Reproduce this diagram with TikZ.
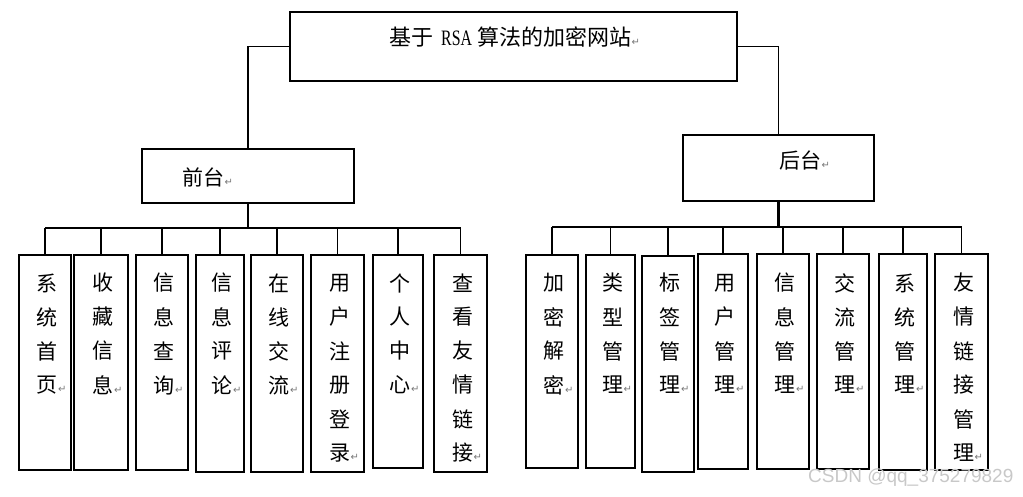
\documentclass[tikz,border=0pt]{standalone}
\usepackage{fontspec}
\usepackage{graphicx}
\setmainfont{Noto Sans CJK SC}
\newfontfamily\cjk{Noto Sans CJK SC}
\newfontfamily\latserif{Liberation Serif}
\newfontfamily\dejavu{DejaVu Sans}
\newfontfamily\wmfont{Liberation Sans}
\definecolor{pmark}{RGB}{120,120,120}
\definecolor{wmark}{RGB}{200,200,200}
\newcommand\rt{\rlap{\hspace{0.5pt}\dejavu\fontsize{10}{10}\selectfont\color{pmark}↵}}
\tikzset{
  box/.style={draw, line width=1.2pt, inner sep=0pt, outer sep=0pt},
  ch/.style={inner sep=0pt, font=\cjk\fontsize{21}{21}\selectfont},
  thin/.style={line width=1.2pt},
  thick/.style={line width=2.6pt},
}
\newcommand\bx[5]{%
  \node[box, minimum width={(#3-#2)*1pt}, minimum height={(#5-#4)*1pt}] (#1) at ({(#2+#3)/2},{(#4+#5)/2}) {};}
\newcommand\vcol[2]{%
  \foreach \c [count=\i] in {#2} {
    \node[ch] (#1-\i) at ([xshift=2pt]#1.north |- 0,{283+34*(\i-1)}) {\c};
  }}
\begin{document}
\begin{tikzpicture}[x=1pt,y=-1pt]
\useasboundingbox (0,0) rectangle (1023,496);
% top level
\bx{top}{290}{737}{12}{81}
\node[ch, anchor=west, font=\cjk\fontsize{22}{22}\selectfont] (toptxt) at (389,37) {基于\hspace{8pt}\scalebox{0.72}[1]{\latserif\fontsize{22}{22}\selectfont RSA}\hspace{5pt}算法的加密网站\rt};
\bx{qt}{142}{354}{149}{203}
\node[ch, anchor=west] (qttxt) at (182,177) {前台\rt};
\bx{ht}{683}{874}{135}{201}
\node[ch, anchor=west] (httxt) at (779,160) {后台\rt};
\draw[thin] (top.west) -| (qt.north);
\draw[thin] (top.east) -| (ht.north);
% front boxes
\bx{f1}{19}{71}{255}{470}
\bx{f2}{74}{128}{255}{470}
\bx{f3}{136}{188}{255}{470}
\bx{f4}{196}{244}{255}{472}
\bx{f5}{251}{303}{255}{472}
\bx{f6}{311}{364}{255}{472}
\bx{f7}{373}{423}{255}{468}
\bx{f8}{434}{487}{255}{472}
% back boxes
\bx{r1}{526}{578}{255}{468}
\bx{r2}{586}{635}{255}{468}
\bx{r3}{642}{694}{256}{472}
\bx{r4}{698}{748}{254}{469}
\bx{r5}{757}{809}{254}{469}
\bx{r6}{817}{869}{254}{469}
\bx{r7}{879}{927}{254}{470}
\bx{r8}{935}{988}{254}{470}
\coordinate (lbar) at (0,228);
\coordinate (rbar) at (0,227);
% front connectors
\draw[thin] (qt.south) -- (qt.south |- lbar);
\draw[thin] (f1.north |- lbar) -- (f8.north |- lbar);
\draw[thick] (f2.north |- lbar) -- (f7.north |- lbar);
\foreach \n in {f1,f2,f3,f4,f5,f6,f7,f8} {\draw[thin] (\n.north) -- (\n.north |- lbar);}
% back connectors
\draw[thick] (ht.south) -- (ht.south |- rbar);
\draw[thin] (r1.north |- rbar) -- (r8.north |- rbar);
\draw[thick] (r4.north |- rbar) -- (r5.north |- rbar);
\foreach \n in {r1,r2,r3,r4,r5,r6,r7,r8} {\draw[thin] (\n.north) -- (\n.north |- rbar);}
% texts
\vcol{f1}{系,统,首,页\rt}
\vcol{f2}{收,藏,信,息\rt}
\vcol{f3}{信,息,查,询\rt}
\vcol{f4}{信,息,评,论\rt}
\vcol{f5}{在,线,交,流\rt}
\vcol{f6}{用,户,注,册,登,录\rt}
\vcol{f7}{个,人,中,心\rt}
\vcol{f8}{查,看,友,情,链,接\rt}
\vcol{r1}{加,密,解,密\rt}
\vcol{r2}{类,型,管,理\rt}
\vcol{r3}{标,签,管,理\rt}
\vcol{r4}{用,户,管,理\rt}
\vcol{r5}{信,息,管,理\rt}
\vcol{r6}{交,流,管,理\rt}
\vcol{r7}{系,统,管,理\rt}
\vcol{r8}{友,情,链,接,管,理\rt}
% watermark
\node[anchor=west, inner sep=0pt, text=wmark, font=\wmfont\fontsize{19}{19}\selectfont] (wm) at (808,478) {CSDN @qq\_375279829};
\end{tikzpicture}
\end{document}
